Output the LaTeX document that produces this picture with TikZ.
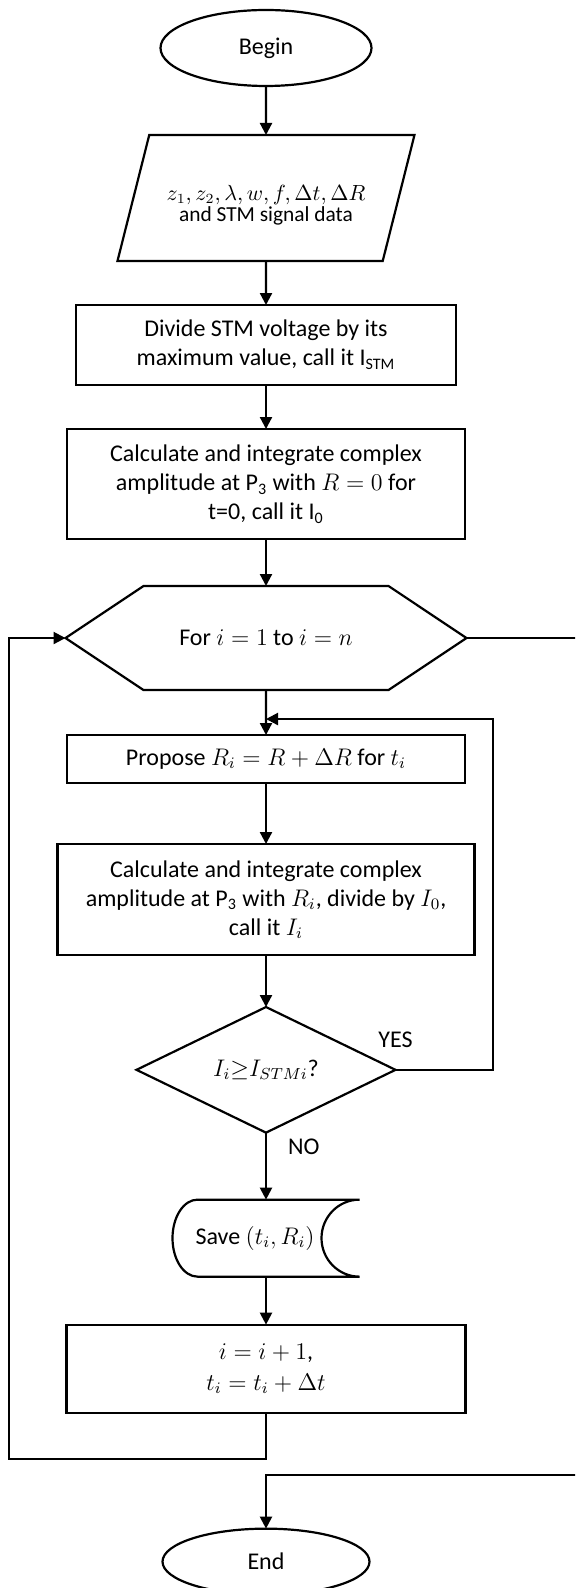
\documentclass[tikz,border=0pt]{standalone}
\usepackage{fontspec}
\setmainfont{Carlito}
\usetikzlibrary{positioning,arrows.meta,calc,shapes.geometric,shapes.symbols}

\begin{document}
\begin{tikzpicture}[
   node distance = 22pt,
   line width = 1.1pt,
   every node/.style = {font=\fontsize{12}{14.5}\selectfont, outer sep=0pt},
   box/.style  = {draw, minimum width=199pt, align=center, inner sep=2pt},
   term/.style = {draw, ellipse, minimum width=105.5pt, minimum height=38pt},
   io/.style   = {draw, trapezium, trapezium left angle=65, trapezium right angle=115,
                  trapezium stretches body, minimum width=148.5pt, minimum height=63pt,
                  align=center, font=\fontsize{10.7}{9}\selectfont},
   hexa/.style = {draw, signal, signal to=east and west, signal pointer angle=67.4,
                  minimum width=200.5pt, minimum height=52pt},
   cond/.style = {draw, diamond, minimum width=129.5pt, minimum height=59pt, inner sep=0pt},
   lbl/.style  = {inner sep=1pt},
   arr/.style  = {-{Triangle[length=6pt,width=6pt]}}
]
\useasboundingbox (0,0) rectangle (287.5pt,-794pt);
\clip (0,0) rectangle (287.5pt,-794pt);

\node[term] (start) at (133pt,-24pt) {Begin};
\node[io, below=24.5pt of start] (data)
   {\rule{0pt}{15pt}$z_1,z_2,\lambda,w,f,\Delta t,\Delta R$\\and STM signal data};
\node[box, below=22pt of data, minimum width=190pt, minimum height=40pt] (div)
   {Divide STM voltage by its\\maximum value, call it I\textsubscript{STM}};
\node[box, below=22pt of div, minimum height=55pt] (calc0)
   {Calculate and integrate complex\\amplitude at P\textsubscript{3} with $R=0$ for\\t=0, call it I\textsubscript{0}};
\node[hexa, below=23.5pt of calc0] (loop) {For $i=1$ to $i=n$};
\node[box, below=22.5pt of loop, minimum height=24pt] (prop)
   {Propose $R_i=R+\Delta R$ for $t_i$};
\node[box, below=30.5pt of prop, minimum width=208.5pt, minimum height=55.5pt] (calcI)
   {Calculate and integrate complex\\amplitude at P\textsubscript{3} with $R_i$, divide by $I_0$,\\call it $I_i$};
\node[cond, below=26pt of calcI] (test) {$I_i{\geq}I_{STMi}$?};
\node[below=33.5pt of test, minimum width=93.5pt, minimum height=38.5pt, inner sep=0pt] (save)
   {Save $(t_i,R_i)$\hspace{11pt}\mbox{}};
\node[box, below=24pt of save, minimum width=199.5pt, minimum height=44pt] (inc)
   {$i=i+1$,\\[1pt]$t_i=t_i+\Delta t$};
\node[term, below=58pt of inc, minimum width=103.5pt, minimum height=33pt] (stop) {End};

% stored data outline
\draw ([xshift=12.5pt]save.south west)
   arc[start angle=270, end angle=90, x radius=12.5pt, y radius=19.25pt]
   -- (save.north east)
   arc[start angle=90, end angle=270, x radius=19pt, y radius=19.25pt] -- cycle;

\coordinate[above=8pt of prop] (join);
\coordinate (off) at (300pt,-737.5pt);

\draw[arr] (start) -- (data);
\draw[arr] (data)  -- (div);
\draw[arr] (div)   -- (calc0);
\draw[arr] (calc0) -- (loop);
\draw[arr] (loop)  -- (prop);
\draw[arr] (prop)  -- (calcI);
\draw[arr] (calcI) -- (test);
\draw[arr] (test)  -- (save);
\draw[arr] (save)  -- (inc);
\draw[arr] (test.east) -- (246.5pt,0 |- test.east) |- (join);
\node[lbl, above=10pt of test.east] {YES};
\node[lbl, below right=2pt and 10pt of test.south] {NO};
\draw[arr] (inc.south) -- ++(0,-23pt) -| (4.5pt,0 |- loop.west) -- (loop.west);
\draw[arr] (loop.east) -| (off) -| (stop.north);
\end{tikzpicture}
\end{document}
